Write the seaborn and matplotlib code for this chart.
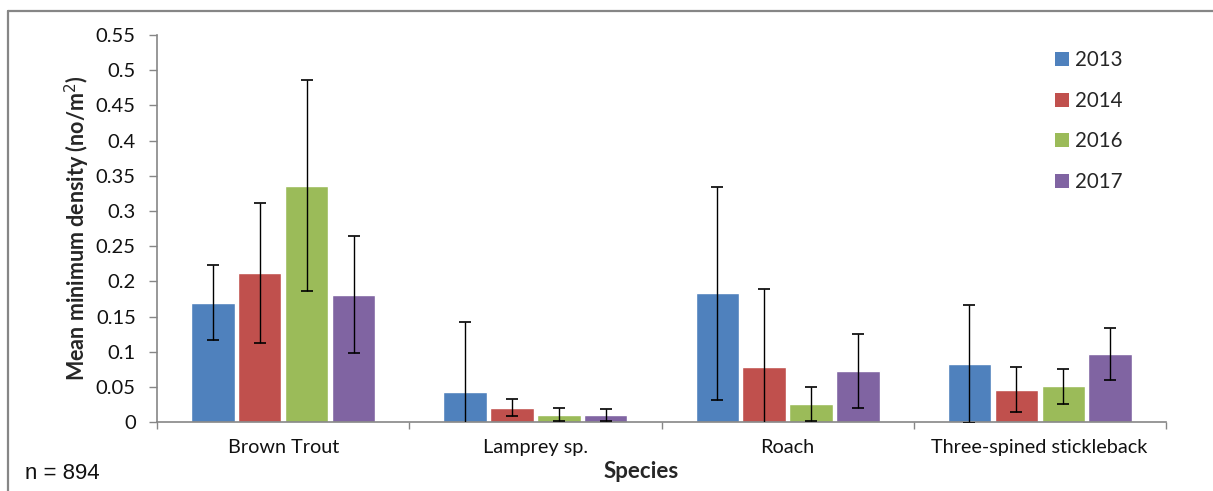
import matplotlib
matplotlib.use("Agg")
import matplotlib.pyplot as plt
import seaborn as sns
import pandas as pd
import numpy as np
from matplotlib.patches import Patch
from matplotlib.lines import Line2D

species = ["Brown Trout", "Lamprey sp.", "Roach", "Three-spined stickleback"]
years = ["2013", "2014", "2016", "2017"]
colors = ["#4F81BD", "#C0504D", "#9BBB59", "#8064A2"]

# mean values per year, in species order
vals_2013 = [0.170, 0.043, 0.183, 0.083]
vals_2014 = [0.212, 0.021, 0.078, 0.046]
vals_2016 = [0.336, 0.011, 0.026, 0.051]
vals_2017 = [0.181, 0.010, 0.073, 0.097]

# error (+/-) per year
err_2013 = [0.053, 0.099, 0.151, 0.084]
err_2014 = [0.099, 0.0115, 0.112, 0.032]
err_2016 = [0.150, 0.009, 0.024, 0.025]
err_2017 = [0.083, 0.0085, 0.053, 0.037]

values = [vals_2013, vals_2014, vals_2016, vals_2017]
errors = [err_2013, err_2014, err_2016, err_2017]

rows = []
for y, v, e in zip(years, values, errors):
    for s, vi, ei in zip(species, v, e):
        rows.append({"Species": s, "Year": y, "value": vi, "err": ei})
df = pd.DataFrame(rows)

sns.set_style("white")
plt.rcParams["font.family"] = ["Lato", "DejaVu Sans"]

W, H = 1213, 491
fig = plt.figure(figsize=(W / 100, H / 100), dpi=100)
ax = fig.add_axes([157.3 / W, 1 - 422.3 / H, (1165.7 - 157.3) / W, (422.3 - 35) / H])

sns.barplot(data=df, x="Species", y="value", hue="Year", order=species,
            hue_order=years, palette=colors, width=0.745, gap=0.08,
            saturation=1, errorbar=None, ax=ax, legend=False)

for cont, y in zip(ax.containers, years):
    sub = df[df["Year"] == y].set_index("Species").loc[species]
    xs = [p.get_x() + p.get_width() / 2 for p in cont.patches]
    ax.errorbar(xs, sub["value"].values, yerr=sub["err"].values, fmt="none",
                ecolor="black", elinewidth=1.0, capsize=4.5, capthick=1.2,
                zorder=5, clip_on=True)

ax.set_ylim(0, 0.55)
ax.set_xlim(-0.5, 3.5)
ax.set_yticks(np.arange(0, 0.5501, 0.05))
ax.set_yticklabels(["0", "0.05", "0.1", "0.15", "0.2", "0.25", "0.3", "0.35",
                    "0.4", "0.45", "0.5", "0.55"])
ax.set_xticks(range(len(species)))
ax.set_xticks([-0.5, 0.5, 1.5, 2.5, 3.5], minor=True)
ax.tick_params(axis="x", which="major", length=0, pad=12, labelsize=14.3,
               labelcolor="#111111")
ax.tick_params(axis="x", which="minor", length=5, width=1, color="#868686",
               direction="out", bottom=True)
ax.tick_params(axis="y", length=5.5, width=1, color="#868686", direction="out",
               left=True, pad=10, labelsize=14.5, labelcolor="#111111")

for s in ["top", "right"]:
    ax.spines[s].set_visible(False)
for s in ["left", "bottom"]:
    ax.spines[s].set_color("#868686")
    ax.spines[s].set_linewidth(1.2)

ax.set_ylabel("Mean minimum density (no/m$^2$)", fontsize=15.5,
              fontweight="bold")
ax.yaxis.set_label_coords((77 - 157.3) / 1008.4, 0.5)
ax.yaxis.label.set_va("center")
ax.set_xlabel("Species", fontsize=16, fontweight="bold")
ax.xaxis.label.set_va("center")
ax.xaxis.set_label_coords((641 - 157.3) / 1008.4, (422.3 - 472) / 387.3)

handles = [Patch(facecolor=c, edgecolor="none") for c in colors]
leg = fig.legend(handles, years, loc="upper left",
                 bbox_to_anchor=(1045 / W, 1 - 40 / H), frameon=False,
                 fontsize=14.8, handlelength=0.68, handleheight=0.68,
                 handletextpad=0.3, labelspacing=1.0, borderpad=0)

fig.text(25 / W, 1 - 479 / H, "n = 894", fontsize=16,
         family=["Liberation Sans", "DejaVu Sans"], va="baseline",
         color="#111111")

# outer border (top and left edges visible)
fig.add_artist(Line2D([8 / W, 1.0], [1 - 11 / H, 1 - 11 / H],
                      transform=fig.transFigure, color="#868686", lw=1.6))
fig.add_artist(Line2D([8 / W, 8 / W], [0.0, 1 - 11 / H],
                      transform=fig.transFigure, color="#868686", lw=1.6))

fig.savefig("out.png", dpi=100)
